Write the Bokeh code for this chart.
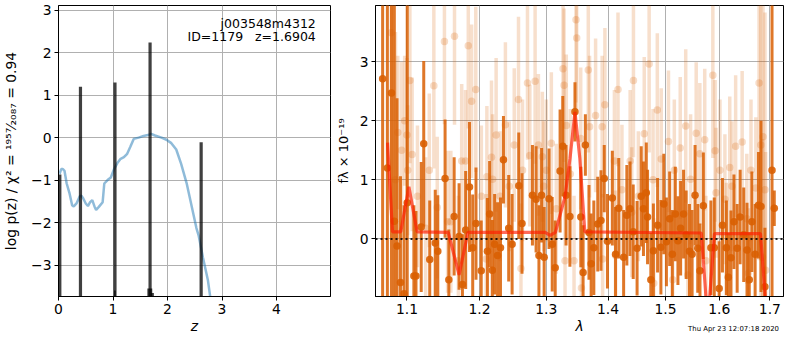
from bokeh.plotting import figure
from bokeh.layouts import row, column
from bokeh.models import FixedTicker, Span, Label, Div
from bokeh.embed import file_html
from bokeh.resources import INLINE

FONT = "DejaVu Sans"

# ---------------- left panel: log p(z) ----------------
pz_z = [0.02, 0.05, 0.08, 0.11, 0.15, 0.20, 0.25, 0.28, 0.33, 0.39, 0.42, 0.45, 0.50, 0.54,
        0.58, 0.62, 0.66, 0.69, 0.74, 0.81, 0.84, 0.90, 0.96, 1.02, 1.08, 1.14, 1.20, 1.26,
        1.32, 1.38, 1.47, 1.56, 1.64, 1.70, 1.77, 1.89, 1.98, 2.07, 2.16, 2.25, 2.35, 2.44,
        2.53, 2.57, 2.65, 2.74, 2.80]
pz_logp = [-0.85, -0.74, -0.74, -0.78, -1.08, -1.30, -1.59, -1.62, -1.55, -1.38, -1.37, -1.42,
           -1.55, -1.61, -1.52, -1.47, -1.62, -1.70, -1.63, -1.52, -1.08, -1.00, -0.94, -0.74,
           -0.60, -0.50, -0.46, -0.38, -0.21, -0.03, 0.00, 0.04, 0.06, 0.09, 0.05, 0.00, -0.05,
           -0.13, -0.28, -0.62, -1.07, -1.60, -2.13, -2.30, -2.82, -3.35, -3.90]

spike_z = [0.024, 0.403, 1.036, 1.680, 2.617]
spike_peak = [-0.87, 1.20, 1.30, 2.24, -0.11]
shoulder_left = [1.02, 1.63, 1.70]
shoulder_right = [1.05, 1.72, 1.75]
shoulder_top = [-3.60, -3.55, -3.66]

z_ticks = [0, 1, 2, 3, 4]
z_tick_labels = ["0", "1", "2", "3", "4"]
logp_ticks = [-3, -2, -1, 0, 1, 2, 3]
logp_tick_labels = ["\u22123", "\u22122", "\u22121", "0", "1", "2", "3"]

# ---------------- right panel: spectrum ----------------
dark_wave = [1.0684, 1.0745, 1.0798, 1.0835, 1.0870, 1.0915, 1.0962, 1.1004, 1.1092, 1.1120,
             1.1190, 1.1224, 1.1305, 1.1380, 1.1415, 1.1515, 1.1567, 1.1641, 1.1710, 1.1757,
             1.1803, 1.1857, 1.1903, 1.1950, 1.2025, 1.2115, 1.2147, 1.2186, 1.2220, 1.2263,
             1.2306, 1.2350, 1.2428, 1.2479, 1.2579, 1.2628, 1.2787, 1.2843, 1.2887, 1.2928,
             1.2968, 1.3044, 1.3094, 1.3141, 1.3218, 1.3261, 1.3313, 1.3375, 1.3456, 1.3551,
             1.3588, 1.3625, 1.3684, 1.3720, 1.3764, 1.3829, 1.3883, 1.3937, 1.3991, 1.4073,
             1.4127, 1.4182, 1.4265, 1.4320, 1.4374, 1.4430, 1.4497, 1.4569, 1.4608, 1.4658,
             1.4680, 1.4738, 1.4783, 1.4858, 1.4917, 1.4969, 1.5016, 1.5075, 1.5123, 1.5177,
             1.5225, 1.5274, 1.5328, 1.5376, 1.5437, 1.5486, 1.5541, 1.5591, 1.5633, 1.5696,
             1.5839, 1.5903, 1.5997, 1.6060, 1.6136, 1.6174, 1.6225, 1.6283, 1.6346, 1.6404,
             1.6475, 1.6540, 1.6585, 1.6637, 1.6702, 1.6769, 1.6820, 1.6899, 1.7044, 1.7090]
dark_flux = [2.71, 1.20, 2.47, 0.30, -0.12, -0.74, -0.93, 0.61, -0.63, -0.63,
             0.20, 1.61, -0.35, -0.07, -0.21, 1.02, -0.69, 0.38, 0.04, -0.77,
             0.15, 0.88, -0.15, 0.26, -0.54, -0.21, 0.42, -0.53, -0.09, -0.28,
             -0.15, 1.34, 0.18, -0.09, 0.90, 0.26, 0.74, 0.67, -0.28, 0.74,
             -0.31, 0.68, -0.09, -0.49, 1.15, 1.57, 0.74, 0.38, 2.15, 0.37,
             -0.57, 1.59, 0.11, -0.42, -0.15, 0.25, 0.31, 1.02, -0.04, 0.69,
             -0.26, 0.52, -0.31, 0.40, 0.51, 0.12, -0.16, 0.72, 0.51, 0.78,
             0.37, -0.69, -0.20, 0.23, -0.14, 0.59, -0.05, 0.34, -0.26, 0.42,
             -0.03, 0.18, 0.42, 0.07, -0.21, -0.26, 0.74, -0.16, -0.54, 0.56,
             -0.15, -0.15, -0.84, 0.23, -0.15, -0.65, -0.32, 0.29, -0.16, 0.37,
             0.07, -0.19, -0.69, 0.29, -0.26, 0.57, 0.55, -0.81, 1.16, 0.52]
dark_err = [6.0, 5.0, 6.0, 4.0, 2.5, 1.8, 1.5, 4.5, 1.2, 1.1,
            1.1, 1.4, 1.0, 0.9, 0.95, 1.0, 0.85, 1.0, 0.9, 0.85,
            1.0, 1.1, 0.9, 0.95, 0.85, 0.9, 0.9, 0.85, 0.85, 0.9,
            0.85, 0.74, 0.9, 0.85, 0.9, 0.85, 0.85, 0.9, 0.85, 0.8,
            0.85, 0.85, 0.8, 0.8, 1.04, 0.85, 0.85, 0.85, 0.5, 0.85,
            0.8, 0.52, 0.8, 0.85, 0.8, 0.8, 0.85, 0.57, 0.8, 0.8,
            0.8, 0.85, 0.8, 0.85, 0.8, 0.8, 0.8, 0.85, 0.8, 0.85,
            0.8, 0.8, 0.8, 0.8, 0.8, 0.85, 0.75, 0.8, 0.75, 0.8,
            0.75, 0.8, 0.75, 0.75, 0.8, 0.75, 0.85, 0.75, 0.8, 0.9,
            0.8, 0.85, 0.8, 0.8, 0.8, 0.75, 0.8, 0.8, 0.75, 0.8,
            0.8, 0.8, 0.8, 0.85, 0.85, 0.9, 1.45, 1.0, 4.0, 0.3]

light_wave = [1.0795, 1.0850, 1.0880, 1.0930, 1.0970, 1.1000, 1.1010, 1.1039, 1.1069, 1.1140,
              1.1250, 1.1299, 1.1361, 1.1407, 1.1506, 1.1550, 1.1595, 1.1646, 1.1700, 1.1747,
              1.1800, 1.1840, 1.1887, 1.1947, 1.2027, 1.2098, 1.2107, 1.2174, 1.2190, 1.2242,
              1.2300, 1.2379, 1.2437, 1.2511, 1.2575, 1.2612, 1.2636, 1.2711, 1.2747, 1.2828,
              1.2879, 1.2940, 1.2960, 1.3002, 1.3080, 1.3158, 1.3265, 1.3281, 1.3297, 1.3317,
              1.3381, 1.3441, 1.3473, 1.3484, 1.3549, 1.3561, 1.3673, 1.3694, 1.3793, 1.3902,
              1.3910, 1.3948, 1.4108, 1.4127, 1.4169, 1.4236, 1.4377, 1.4405, 1.4434, 1.4519,
              1.4622, 1.4708, 1.4777, 1.4790, 1.4853, 1.4923, 1.5053, 1.5129, 1.5159, 1.5267,
              1.5368, 1.5407, 1.5458, 1.5562, 1.5630, 1.5722, 1.5745, 1.5876, 1.5919, 1.5937,
              1.6012, 1.6107, 1.6136, 1.6201, 1.6245, 1.6316, 1.6444, 1.6536, 1.6567, 1.6619,
              1.6716, 1.6781, 1.6815, 1.6849, 1.6860, 1.6900, 1.6913]
light_flux = [3.49, 1.00, 1.80, 1.50, 2.00, 1.76, 1.16, 2.68, 1.43, 0.72,
              0.18, 1.16, 2.59, 0.53, 3.34, 0.29, 0.29, 3.43, -0.37, 1.32,
              1.32, 3.27, 2.33, 2.53, 0.72, -0.34, 1.05, 1.38, 1.01, 1.76,
              0.72, 1.93, 0.89, 1.59, 2.36, -0.50, 1.16, 2.64, 1.41, 2.67,
              1.59, 1.39, 0.89, 1.16, 1.62, 0.51, 2.88, 2.60, -0.37, 1.92,
              1.10, -0.37, 3.71, 3.40, 1.70, -0.83, 2.86, 1.90, 2.09, 1.90,
              -0.34, 2.27, 1.32, -0.28, 2.53, 0.83, 1.32, 0.45, 2.68, 0.72,
              1.78, 2.96, 1.00, -0.75, 2.18, 1.35, 1.65, -0.69, 1.16, 1.54,
              1.91, -0.61, 1.01, 1.79, 1.44, 1.68, -0.37, 2.77, 1.49, 0.78,
              1.16, 0.67, -0.15, 1.21, 0.89, 1.57, 1.64, 0.34, -0.58, 1.16,
              0.86, 2.64, 1.59, -0.31, 1.73, 0.83, -0.53]
light_err = [3.0, 2.5, 1.3, 1.5, 1.1, 1.3, 1.1, 1.4, 1.3, 1.2,
             1.2, 1.3, 1.4, 1.2, 1.4, 1.2, 1.2, 1.5, 1.1, 1.3,
             1.2, 1.4, 1.3, 1.4, 1.2, 1.1, 1.2, 1.3, 1.1, 1.3,
             1.1, 1.4, 1.1, 1.3, 1.4, 1.1, 1.2, 1.3, 1.2, 1.4,
             1.2, 1.1, 1.1, 1.2, 1.2, 1.1, 1.4, 1.3, 1.1, 1.2,
             1.1, 1.1, 1.4, 1.3, 1.2, 1.1, 1.4, 1.2, 1.3, 1.2,
             1.1, 1.3, 1.2, 1.1, 1.3, 1.1, 1.2, 1.1, 1.3, 1.1,
             1.3, 1.5, 1.2, 1.1, 1.3, 1.2, 1.2, 1.1, 1.2, 1.2,
             1.3, 1.1, 1.1, 1.2, 1.2, 1.2, 1.1, 1.4, 1.2, 1.1,
             1.2, 1.1, 1.1, 1.2, 1.1, 1.2, 1.2, 1.1, 1.1, 1.2,
             1.2, 3.0, 3.0, 2.0, 3.0, 3.0, 2.0]

model_wave = [1.0747, 1.0811, 1.0919, 1.1026, 1.1135, 1.1559, 1.1710, 1.1835, 1.2984, 1.3060,
              1.3145, 1.3297, 1.3376, 1.3456, 1.3535, 1.3616, 1.5657, 1.5780, 1.5907, 1.6810,
              1.6943]
model_flux = [1.63, 0.12, 0.12, 0.88, 0.12, 0.11, -0.61, 0.11, 0.11, 0.06,
              0.11, 0.72, 1.36, 2.15, 1.36, 0.12, 0.10, -1.40, 0.09, 0.09,
              -1.40]

wave_ticks = [1.1, 1.2, 1.3, 1.4, 1.5, 1.6, 1.7]
wave_tick_labels = ["1.1", "1.2", "1.3", "1.4", "1.5", "1.6", "1.7"]
flux_ticks = [0, 1, 2, 3]
flux_tick_labels = ["0", "1", "2", "3"]

timestamp = "Thu Apr 23 12:07:18 2020"

assert len(dark_wave) == len(dark_flux) == len(dark_err)
assert len(light_wave) == len(light_flux) == len(light_err)
assert len(model_wave) == len(model_flux)

ORANGE = "#d95f02"


def style(p):
    p.outline_line_color = "black"
    p.outline_line_width = 1
    p.outline_line_alpha = 1
    p.background_fill_color = "white"
    p.border_fill_color = None
    for ax in (p.xaxis[0], p.yaxis[0]):
        ax.axis_line_color = "black"
        ax.major_tick_line_color = "black"
        ax.major_tick_out = 4
        ax.major_tick_in = 0
        ax.minor_tick_line_color = None
        ax.major_label_text_font = FONT
        ax.major_label_text_font_size = "13.9px"
        ax.major_label_text_color = "black"
        ax.major_label_standoff = 3
        ax.axis_label_text_font = FONT
        ax.axis_label_text_font_size = "13.9px"
        ax.axis_label_text_color = "black"
    p.grid.grid_line_color = "#b0b0b0"
    p.grid.grid_line_alpha = 1
    p.grid.grid_line_width = 1


H = 336

# ---------- left ----------
p1 = figure(width=332, height=H, x_range=(0, 4.99), y_range=(-3.74, 3.11),
            output_backend="svg", toolbar_location=None,
            min_border_left=54, min_border_right=2, min_border_top=5, min_border_bottom=0)
style(p1)
p1.xaxis.ticker = FixedTicker(ticks=z_ticks)
p1.xaxis.major_label_overrides = dict(zip(z_ticks, z_tick_labels))
p1.yaxis.ticker = FixedTicker(ticks=logp_ticks)
p1.yaxis.major_label_overrides = dict(zip(logp_ticks, logp_tick_labels))
p1.xaxis.axis_label = "z"
p1.xaxis.axis_label_text_font_style = "italic"
p1.xaxis.axis_label_standoff = 1
p1.yaxis.axis_label = "log p(z) / \u03c7\u00b2 = \u00b9\u2079\u2075\u2077\u2044\u2082\u2080\u2088\u2087 = 0.94"
p1.yaxis.axis_label_text_font_style = "normal"
p1.yaxis.axis_label_standoff = 9

p1.line(pz_z, pz_logp, line_color="#1f77b4", line_alpha=0.5, line_width=2.5)
p1.segment(x0=spike_z, y0=[-10] * len(spike_z), x1=spike_z, y1=spike_peak,
           line_color="black", line_alpha=0.75, line_width=3.2)
p1.quad(left=shoulder_left, right=shoulder_right, bottom=[-10] * len(shoulder_top), top=shoulder_top,
        fill_color="black", fill_alpha=0.75, line_color=None)

p1.add_layout(Label(x=4.72, y=2.69, text="j003548m4312", text_align="right", text_baseline="middle",
                    text_font=FONT, text_font_size="12.5px", text_color="black"))
p1.add_layout(Label(x=4.72, y=2.38, text="ID=1179\u00a0\u00a0\u00a0z=1.6904", text_align="right",
                    text_baseline="middle", text_font=FONT, text_font_size="12.5px", text_color="black"))

# ---------- right ----------
p2 = figure(width=452, height=H, x_axis_type="log", x_range=(1.0593, 1.728), y_range=(-0.975, 3.95),
            output_backend="svg", toolbar_location=None,
            min_border_left=42, min_border_right=1, min_border_top=5, min_border_bottom=0)
style(p2)
p2.xaxis.ticker = FixedTicker(ticks=wave_ticks)
p2.xaxis.major_label_overrides = dict(zip(wave_ticks, wave_tick_labels))
p2.yaxis.ticker = FixedTicker(ticks=flux_ticks)
p2.yaxis.major_label_overrides = dict(zip(flux_ticks, flux_tick_labels))
p2.xaxis.axis_label = "\u03bb"
p2.xaxis.axis_label_text_font_style = "italic"
p2.xaxis.axis_label_standoff = 1
p2.yaxis.axis_label = "f\u03bb \u00d7 10\u207b\u00b9\u2079"
p2.yaxis.axis_label_text_font_style = "normal"
p2.yaxis.axis_label_text_font_size = "13px"
p2.yaxis.axis_label_standoff = 6

# light spectrum
p2.segment(x0=light_wave, x1=light_wave,
           y0=[f - e for f, e in zip(light_flux, light_err)],
           y1=[f + e for f, e in zip(light_flux, light_err)],
           line_color=ORANGE, line_alpha=0.2, line_width=3.5)
p2.scatter(light_wave, light_flux, size=7.5, fill_color=ORANGE, fill_alpha=0.22, line_color=None)

# dark spectrum
p2.segment(x0=dark_wave, x1=dark_wave,
           y0=[f - e for f, e in zip(dark_flux, dark_err)],
           y1=[f + e for f, e in zip(dark_flux, dark_err)],
           line_color=ORANGE, line_alpha=0.85, line_width=3)
p2.scatter(dark_wave, dark_flux, size=7.5, fill_color=ORANGE, fill_alpha=0.9, line_color=None)

# model
p2.line(model_wave, model_flux, line_color="#ff1a00", line_alpha=0.65, line_width=3.2)

p2.add_layout(Span(location=0, dimension="width", line_color="black", line_alpha=0.85,
                   line_dash="2 3", line_width=2))

stamp = Div(text=timestamp, width=784, height=10, margin=(-12, 0, 0, 0),
            styles={"text-align": "right", "font-size": "6.9px", "line-height": "10px",
                    "font-family": "DejaVu Sans", "color": "black", "padding-right": "5px",
                    "box-sizing": "border-box"})

layout = column(row(p1, p2), stamp)
open("out.html", "w").write(file_html(layout, INLINE))
